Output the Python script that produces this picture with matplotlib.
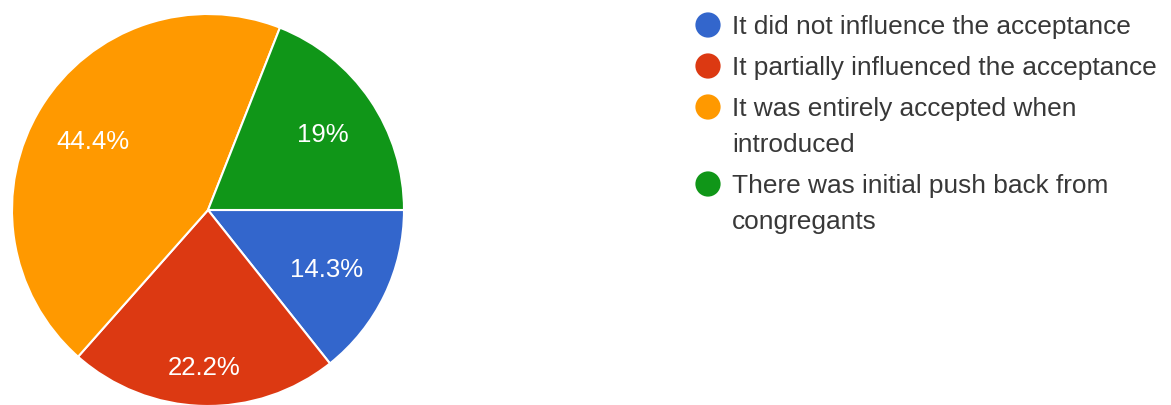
import matplotlib.pyplot as plt
import numpy as np

plt.rcParams['font.family'] = ['Liberation Sans', 'DejaVu Sans']

categories = [
    "It did not influence the acceptance",
    "It partially influenced the acceptance",
    "It was entirely accepted when\nintroduced",
    "There was initial push back from\ncongregants",
]
shares = [14.3, 22.2, 44.4, 19.0]
colors = ['#3366cc', '#dc3912', '#ff9900', '#109618']
label_dist = [0.67, 0.79, 0.69, 0.71]

W, H = 1171, 405
fig = plt.figure(figsize=(W / 100, H / 100), dpi=100)

# pie: centre (208, 210) px from top-left, radius 196 px
cx, cy, r = 208, 210, 196
ax = fig.add_axes([(cx - r) / W, (H - cy - r) / H, 2 * r / W, 2 * r / H])
wedges, _ = ax.pie(shares, colors=colors, startangle=0, counterclock=False,
                   radius=1.0,
                   wedgeprops=dict(edgecolor='white', linewidth=1.5))
ax.set_xlim(-1, 1)
ax.set_ylim(-1, 1)
ax.set_aspect('equal')
ax.axis('off')

for w, v, d in zip(wedges, shares, label_dist):
    mid = np.deg2rad((w.theta1 + w.theta2) / 2)
    ax.text(d * np.cos(mid), d * np.sin(mid) - 0.015, f"{v:g}%", color='white',
            fontsize=18.5, ha='center', va='center')

# legend drawn in pixel space
lg = fig.add_axes([0, 0, 1, 1])
lg.set_xlim(0, W)
lg.set_ylim(H, 0)
lg.axis('off')

y = 25
for name, c in zip(categories, colors):
    lg.scatter([708], [y], s=330, color=c, edgecolors='none')
    lines = name.split("\n")
    for k, line in enumerate(lines):
        lg.text(732, y + k * 36 + 9, line, fontsize=18.9, color='#383838',
                ha='left', va='baseline')
    y += 41 + 36 * (len(lines) - 1)

fig.savefig('out.png', dpi=100, facecolor='white')
